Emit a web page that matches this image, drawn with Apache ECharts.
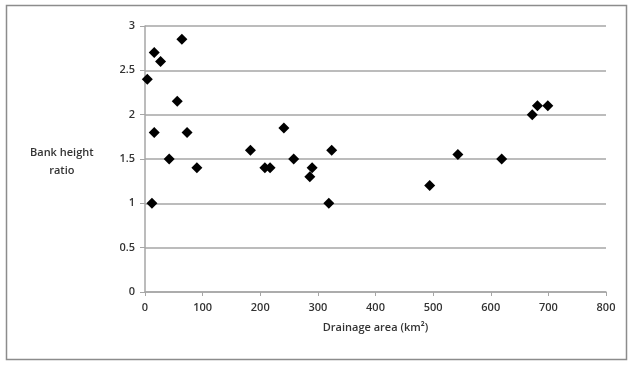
<!DOCTYPE html>
<html><head><meta charset="utf-8">
<script src="https://cdn.jsdelivr.net/npm/echarts@6/dist/echarts.min.js"></script>
<style>html,body{margin:0;padding:0;background:#fff}#c{width:629px;height:367px}</style>
</head><body><div id="c"></div>
<script>
const drainageArea = [4, 16, 27, 64, 56, 16, 73, 42, 90, 12, 183, 208, 217, 241, 258, 286, 290, 319, 324, 494, 543, 619, 672, 681, 699];
const bankHeightRatio = [2.4, 2.7, 2.6, 2.85, 2.15, 1.8, 1.8, 1.5, 1.4, 1.0, 1.6, 1.4, 1.4, 1.85, 1.5, 1.3, 1.4, 1.0, 1.6, 1.2, 1.55, 1.5, 2.0, 2.1, 2.1];
const xTitle = 'Drainage area (km²)';
const yTitle = 'Bank height\nratio';

const chart = echarts.init(document.getElementById('c'));
const font = 'Open Sans';
chart.setOption({
  animation: false,
  backgroundColor: '#fff',
  graphic: [{
    type: 'rect', shape: {x: 6.5, y: 5.5, width: 620, height: 354},
    style: {fill: 'none', stroke: '#8c8c8c', lineWidth: 1.5}, silent: true
  }, {
    type: 'text', left: 30, top: 144,
    style: {text: yTitle, font: '600 11px "Open Sans"', fill: '#333', textAlign: 'center', lineHeight: 18}
  }],
  grid: {left: 145, right: 23, top: 26, bottom: 75},
  xAxis: {
    type: 'value', min: 0, max: 800, interval: 100,
    name: xTitle, nameLocation: 'middle', nameGap: 30,
    nameTextStyle: {fontFamily: font, fontSize: 11, color: '#333', fontWeight: 600},
    axisLine: {show: true, lineStyle: {color: '#a6a6a6', width: 1.5}},
    axisTick: {show: true, length: 4, lineStyle: {color: '#a6a6a6'}},
    axisLabel: {fontFamily: font, fontSize: 11, color: '#333', fontWeight: 600, margin: 10},
    splitLine: {show: false}
  },
  yAxis: {
    type: 'value', min: 0, max: 3, interval: 0.5,
    axisLine: {show: true, lineStyle: {color: '#a6a6a6', width: 1.5}},
    axisTick: {show: true, length: 5, lineStyle: {color: '#a6a6a6'}},
    axisLabel: {fontFamily: font, fontSize: 11, color: '#333', fontWeight: 600, margin: 10},
    splitLine: {show: true, lineStyle: {color: '#a6a6a6', width: 1.5}}
  },
  series: [{
    type: 'scatter',
    symbol: 'diamond', symbolSize: 11,
    itemStyle: {color: '#000', opacity: 1},
    data: drainageArea.map((x, i) => [x, bankHeightRatio[i]])
  }]
});
</script></body></html>
